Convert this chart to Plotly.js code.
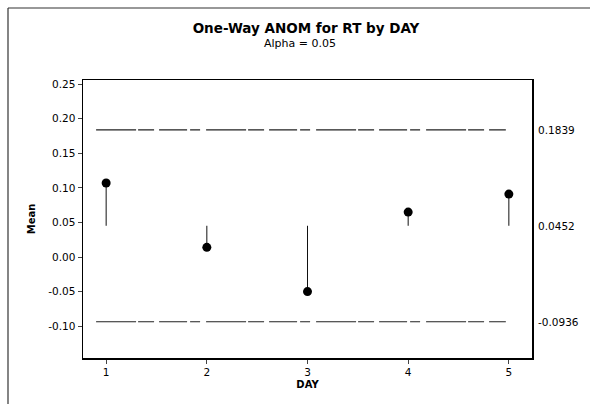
<!DOCTYPE html>
<html><head><meta charset="utf-8">
<script src="https://cdn.plot.ly/plotly-3.0.1.min.js"></script>
<style>html,body{margin:0;padding:0;background:#fff}#c{width:590px;height:404px}</style>
</head><body><div id="c"></div>
<script>
const days = [1, 2, 3, 4, 5];
const means = [0.107, 0.014, -0.050, 0.065, 0.091];
const centerLine = 0.0452;
const upperLimit = 0.1839;
const lowerLimit = -0.0936;
const limitLabels = ['0.1839', '0.0452', '-0.0936'];
const yTicks = [-0.10, -0.05, 0.00, 0.05, 0.10, 0.15, 0.20, 0.25];
const limitSpan = [0.9, 4.97];

const stemX = [], stemY = [];
days.forEach((d, i) => { stemX.push(d, d, null); stemY.push(means[i], centerLine, null); });

const font = 'DejaVu Sans, Liberation Sans, sans-serif';
const dashPat = '40px,2px,16px,5px,28px,3px,10px,6px';
const traces = [
  {x: limitSpan, y: [upperLimit, upperLimit], mode: 'lines', line: {color: '#222', width: 1.2, dash: dashPat}, hoverinfo: 'skip'},
  {x: limitSpan, y: [lowerLimit, lowerLimit], mode: 'lines', line: {color: '#222', width: 1.2, dash: dashPat}, hoverinfo: 'skip'},
  {x: stemX, y: stemY, mode: 'lines', line: {color: '#111', width: 1}, hoverinfo: 'skip'},
  {x: days, y: means, mode: 'markers', marker: {color: '#000', size: 9}}
];

const layout = {
  width: 590, height: 404,
  margin: {l: 83, r: 58, t: 80, b: 46},
  paper_bgcolor: '#fff', plot_bgcolor: '#fff',
  showlegend: false,
  font: {family: font, color: '#000', size: 10},
  title: {text: '<b>One-Way ANOM for RT by DAY</b>',
          xref: 'container', yref: 'container', x: 306 / 590, xanchor: 'center',
          y: 1 - 28 / 404, yanchor: 'middle', pad: {t: 0, b: 0, l: 0, r: 0}, font: {size: 13.5, family: font}},
  xaxis: {range: [0.77, 5.23], tickvals: days, ticktext: days.map(String), ticks: 'outside', ticklen: 4,
          showgrid: false, zeroline: false, showline: true, linecolor: '#000', linewidth: 1.5, mirror: true,
          tickfont: {size: 10.5}, title: {text: '<b>DAY</b>', font: {size: 10}, standoff: 4}},
  yaxis: {range: [-0.146, 0.256], tickvals: yTicks, ticktext: yTicks.map(v => v.toFixed(2)), ticks: 'outside', ticklen: 4,
          showgrid: false, zeroline: false, showline: true, linecolor: '#000', linewidth: 1.5, mirror: true,
          tickfont: {size: 10.5}, title: {text: '<b>Mean</b>', font: {size: 10}, standoff: 10}},
  annotations: [upperLimit, centerLine, lowerLimit].map((v, i) => ({
    xref: 'paper', yref: 'y', x: 1.01, y: v, xanchor: 'left', yanchor: 'middle',
    text: limitLabels[i], showarrow: false, font: {size: 10.5}
  })).concat([{
    xref: 'paper', yref: 'paper', x: (300 - 83) / 449, y: (358 - 44) / 278, xanchor: 'center', yanchor: 'middle',
    text: 'Alpha = 0.05', showarrow: false, font: {size: 11}
  }]),
  shapes: [
    {type: 'line', xref: 'paper', yref: 'paper', x0: (8 - 83) / 449, x1: (8 - 83) / 449, y0: (404 - 8 - 46) / 278 , y1: -46 / 278, line: {color: '#333', width: 1.2}},
    {type: 'line', xref: 'paper', yref: 'paper', x0: (8 - 83) / 449, x1: (590 - 83) / 449, y0: (404 - 8 - 46) / 278, y1: (404 - 8 - 46) / 278, line: {color: '#333', width: 1.2}}
  ]
};
Plotly.newPlot('c', traces, layout, {staticPlot: true, displayModeBar: false});
</script></body></html>
